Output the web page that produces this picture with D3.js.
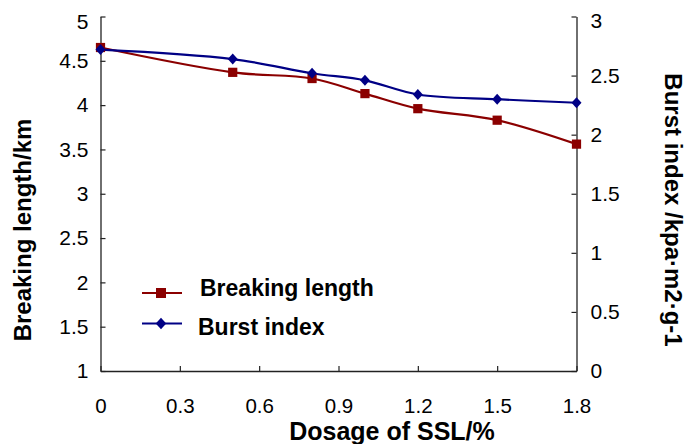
<!DOCTYPE html>
<html>
<head>
<meta charset="utf-8">
<script src="https://cdn.jsdelivr.net/npm/d3@7"></script>
<style>
  body { margin: 0; background: #fff; }
  text { font-family: "Liberation Sans", Arial, sans-serif; fill: #000; }
</style>
</head>
<body>
<div id="chart"></div>
<script>
// chart data
const dosage = [0, 0.5, 0.8, 1.0, 1.2, 1.5, 1.8];
const breakingLength = [4.65, 4.37, 4.30, 4.13, 3.96, 3.83, 3.56];
const burstIndex = [2.72, 2.64, 2.52, 2.46, 2.34, 2.30, 2.27];
const xTicks = [0, 0.3, 0.6, 0.9, 1.2, 1.5, 1.8];
const leftTicks = [1, 1.5, 2, 2.5, 3, 3.5, 4, 4.5, 5];
const rightTicks = [0, 0.5, 1, 1.5, 2, 2.5, 3];

const width = 697, height = 444;
const plot = { left: 100.5, right: 576.5, top: 16.5, bottom: 371 };

const svg = d3.select("#chart").append("svg")
  .attr("width", width)
  .attr("height", height);

const x = d3.scaleLinear().domain([0, 1.8]).range([plot.left, plot.right]);
const yL = d3.scaleLinear().domain([1, 5]).range([plot.bottom, plot.top]);
const yR = d3.scaleLinear().domain([0, 3]).range([plot.bottom, plot.top]);

// axes, ticks all point into the plot
const fmt = d => String(d);

const gx = svg.append("g")
  .attr("transform", `translate(0,${plot.bottom})`)
  .call(d3.axisBottom(x).tickValues(xTicks).tickFormat(fmt).tickSizeInner(-5).tickSizeOuter(0).tickPadding(27));

const gl = svg.append("g")
  .attr("transform", `translate(${plot.left},0)`)
  .call(d3.axisLeft(yL).tickValues(leftTicks).tickFormat(fmt).tickSizeInner(-5).tickSizeOuter(0).tickPadding(12));

const gr = svg.append("g")
  .attr("transform", `translate(${plot.right},0)`)
  .call(d3.axisRight(yR).tickValues(rightTicks).tickFormat(fmt).tickSizeInner(-5).tickSizeOuter(0).tickPadding(14));

[gx, gl, gr].forEach(g => {
  g.selectAll("path.domain").attr("stroke", "#222").attr("stroke-width", 1.3);
  g.selectAll(".tick line").attr("stroke", "#222").attr("stroke-width", 1.2);
  g.selectAll(".tick text").attr("font-size", 21).attr("font-family", "Liberation Sans, Arial, sans-serif").attr("fill", "#111");
});
gx.selectAll(".tick text").attr("font-size", 20.5);
// top labels sit a little below their tick, as in the original
gl.selectAll(".tick text").filter(d => d === 5).attr("dy", "0.55em");
gr.selectAll(".tick text").filter(d => d === 3).attr("dy", "0.5em");

// lines
const red = "#8b0000", blue = "#000085";

const lineL = d3.line().x((d, i) => x(dosage[i])).y(d => yL(d)).curve(d3.curveCatmullRom.alpha(0.5));
const lineR = d3.line().x((d, i) => x(dosage[i])).y(d => yR(d)).curve(d3.curveCatmullRom.alpha(0.5));

svg.append("path").datum(breakingLength)
  .attr("d", lineL).attr("fill", "none").attr("stroke", red).attr("stroke-width", 2.2);
svg.append("path").datum(burstIndex)
  .attr("d", lineR).attr("fill", "none").attr("stroke", blue).attr("stroke-width", 2.2);

// diamond a bit taller than wide
const tallDiamond = {
  draw(ctx, size) {
    const w = Math.sqrt(size) / 2, h = w * 1.1;
    ctx.moveTo(0, -h); ctx.lineTo(w, 0); ctx.lineTo(0, h); ctx.lineTo(-w, 0); ctx.closePath();
  }
};

const sq = d3.symbol().type(d3.symbolSquare).size(85);
const dia = d3.symbol().type(tallDiamond).size(100);

svg.append("g").selectAll("path")
  .data(breakingLength).enter().append("path")
  .attr("d", sq)
  .attr("transform", (d, i) => `translate(${x(dosage[i])},${yL(d)})`)
  .attr("fill", red);

svg.append("g").selectAll("path")
  .data(burstIndex).enter().append("path")
  .attr("d", dia)
  .attr("transform", (d, i) => `translate(${x(dosage[i])},${yR(d)})`)
  .attr("fill", blue);

// legend
const legend = [
  { name: "Breaking length", color: red, sym: d3.symbol().type(d3.symbolSquare).size(100), y: 293, tx: 200, ty: 296 },
  { name: "Burst index", color: blue, sym: d3.symbol().type(tallDiamond).size(110), y: 323.5, tx: 198, ty: 335 }
];
legend.forEach(l => {
  svg.append("line").attr("x1", 142).attr("x2", 182).attr("y1", l.y).attr("y2", l.y)
    .attr("stroke", l.color).attr("stroke-width", 2);
  svg.append("path").attr("d", l.sym).attr("transform", `translate(161,${l.y})`).attr("fill", l.color);
  svg.append("text").attr("x", l.tx).attr("y", l.ty)
    .attr("font-size", 23).attr("font-weight", "bold").text(l.name);
});

// axis titles
svg.append("text")
  .attr("transform", "translate(31,230) rotate(-90)")
  .attr("text-anchor", "middle")
  .attr("font-size", 24).attr("font-weight", "bold")
  .text("Breaking length/km");

svg.append("text")
  .attr("transform", "translate(665,210) rotate(90)")
  .attr("text-anchor", "middle")
  .attr("font-size", 24).attr("font-weight", "bold")
  .text("Burst index /kpa·m2·g-1");

svg.append("text")
  .attr("x", 392).attr("y", 440)
  .attr("text-anchor", "middle")
  .attr("font-size", 25).attr("font-weight", "bold")
  .text("Dosage of SSL/%");
</script>
</body>
</html>
